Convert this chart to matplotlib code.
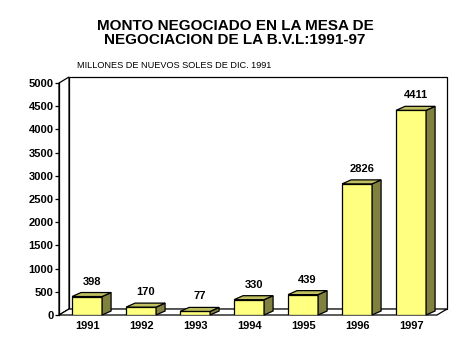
import matplotlib
matplotlib.use('Agg')
import matplotlib.pyplot as plt
from matplotlib.patches import Polygon

plt.rcParams['font.family'] = ['Liberation Sans', 'DejaVu Sans']

# data
years = ['1991', '1992', '1993', '1994', '1995', '1996', '1997']
values = [398, 170, 77, 330, 439, 2826, 4411]
yticks = list(range(0, 5001, 500))

front = '#FFFF80'
side = '#808040'
top = '#C0C060'

fig = plt.figure(figsize=(4.76, 3.56), dpi=100)
# front plane of the chart, in pixels: x 59..437, y 83..315
ax = fig.add_axes([59 / 476, (356 - 315) / 356, (437 - 59) / 476, (315 - 83) / 356])
xmin, xmax = -0.52, 6.48
ax.set_xlim(xmin, xmax)
ax.set_ylim(0, 5000)

# pixel -> data
px = (xmax - xmin) / 378.0
py = 5000 / 232.0

# walls (depth 10 px right, 6 px up)
wx, wy = 10 * px, 6 * py
kw = dict(transform=ax.transData, clip_on=False, facecolor='white',
          edgecolor='black', linewidth=0.9, zorder=1)
ax.add_patch(Polygon([(xmin + wx, wy), (xmax + wx, wy), (xmax + wx, 5000 + wy),
                      (xmin + wx, 5000 + wy)], **kw))
ax.add_patch(Polygon([(xmin, 0), (xmin + wx, wy), (xmin + wx, 5000 + wy),
                      (xmin, 5000)], **kw))
ax.add_patch(Polygon([(xmin, 0), (xmin + wx, wy), (xmax + wx, wy), (xmax, 0)], **kw))

# bars (depth 9 px right, 4 px up)
bw = 30 * px
bx, by = 9 * px, 4 * py
xs = list(range(len(years)))
ax.bar(xs, values, width=bw, color=front, edgecolor='black', linewidth=0.9, zorder=3)
for x, v in zip(xs, values):
    l, r = x - bw / 2, x + bw / 2
    ax.add_patch(Polygon([(r, 0), (r + bx, by), (r + bx, v + by), (r, v)],
                         facecolor=side, edgecolor='black', linewidth=0.9,
                         zorder=3, clip_on=False))
    ax.add_patch(Polygon([(l, v), (l + bx, v + by), (r + bx, v + by), (r, v)],
                         facecolor=top, edgecolor='black', linewidth=0.9,
                         zorder=3, clip_on=False))
    ax.text(x + bx / 2, v + by + 6 * py, str(v), ha='center', va='bottom',
            fontsize=8, fontweight='bold')

for s in ['top', 'right', 'bottom']:
    ax.spines[s].set_visible(False)
ax.spines['left'].set_linewidth(0.9)
ax.spines['left'].set_zorder(2)
ax.set_yticks(yticks)
ax.set_yticklabels([str(t) for t in yticks], fontsize=8, fontweight='bold')
ax.tick_params(axis='y', direction='out', length=3, width=0.9, pad=1)
ax.set_xticks(xs)
ax.set_xticklabels(years, fontsize=8, fontweight='bold')
ax.tick_params(axis='x', length=0, pad=4)
ax.patch.set_visible(False)

fig.text(235 / 476, 1 - 29.5 / 356, 'MONTO NEGOCIADO EN LA MESA DE', ha='center',
         va='baseline', fontsize=11, fontweight='bold')
fig.text(235 / 476, 1 - 43.5 / 356, 'NEGOCIACION DE LA B.V.L:1991-97', ha='center',
         va='baseline', fontsize=11, fontweight='bold')
fig.text(77 / 476, 1 - 67.7 / 356, 'MILLONES DE NUEVOS SOLES DE DIC. 1991', ha='left',
         va='baseline', fontsize=6.6)

fig.savefig('out.png', dpi=100)
